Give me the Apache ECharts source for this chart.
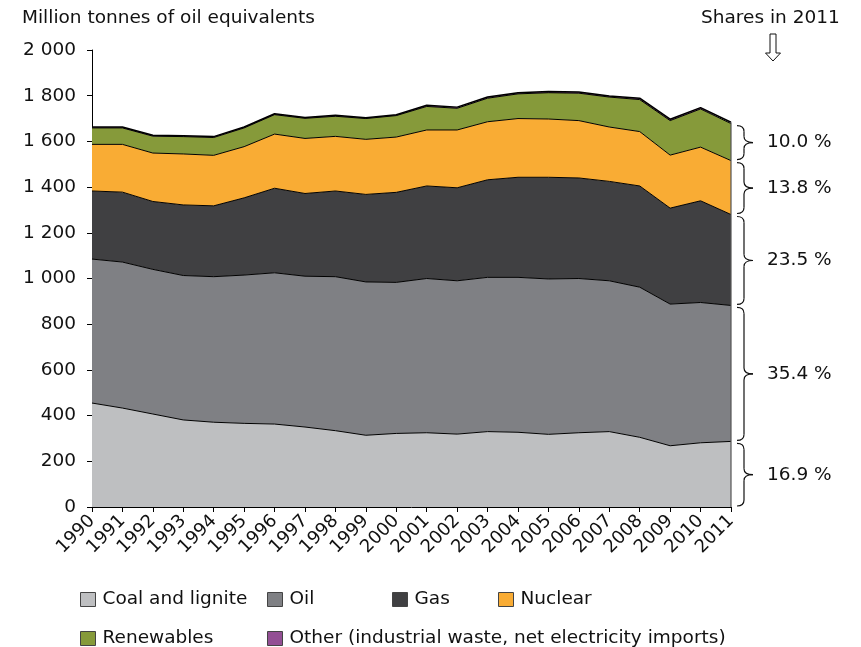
<!DOCTYPE html>
<html>
<head>
<meta charset="utf-8">
<script src="https://cdn.jsdelivr.net/npm/echarts@6/dist/echarts.min.js"></script>
<style>
  html, body { margin: 0; padding: 0; background: #fff; }
  #chart { width: 861px; height: 647px; }
</style>
</head>
<body>
<div id="chart"></div>
<script>
// Years on the x axis
const years = ['1990', '1991', '1992', '1993', '1994', '1995', '1996', '1997', '1998', '1999', '2000',
    '2001', '2002', '2003', '2004', '2005', '2006', '2007', '2008', '2009', '2010', '2011'];

// Gross inland energy consumption by fuel, Mtoe
const coal = [455, 433, 407, 381, 371, 366, 363, 350, 334, 314, 322, 325, 319, 330, 327, 318, 325, 330, 305, 268, 281, 287];
const oil = [630, 639, 633, 632, 637, 649, 662, 660, 674, 671, 661, 675, 671, 675, 678, 680, 675, 660, 657, 620, 614, 595];
const gas = [298, 306, 297, 309, 310, 338, 370, 362, 375, 383, 394, 405, 407, 427, 438, 445, 440, 435, 443, 420, 445, 398];
const nuclear = [204, 209, 212, 223, 221, 224, 237, 241, 239, 241, 242, 245, 253, 254, 257, 255, 251, 238, 238, 232, 235, 236];
const renewables = [72, 72, 74, 76, 78, 82, 85, 88, 88, 91, 94, 103, 95, 103, 108, 115, 120, 131, 140, 151, 167, 162];
const other = [4, 4, 4, 4, 4, 4, 4, 4, 4, 4, 4, 5, 5, 5, 5, 5, 5, 5, 6, 6, 6, 6];

// Shares in 2011, bottom to top (coal, oil, gas, nuclear, renewables)
const shareLabels = ['16.9 %', '35.4 %', '23.5 %', '13.8 %', '10.0 %'];

const names = ['Coal and lignite', 'Oil', 'Gas', 'Nuclear', 'Renewables',
    'Other (industrial waste, net electricity imports)'];
const colors = ['#bebfc1', '#7f8084', '#404042', '#f9ac34', '#869a3a', '#934f94'];
const values = [coal, oil, gas, nuclear, renewables, other];

const FONT = 'DejaVu Sans';
const chart = echarts.init(document.getElementById('chart'));

const series = names.map((name, i) => ({
    name: name,
    type: 'line',
    stack: 'total',
    data: values[i],
    symbol: 'none',
    lineStyle: { color: '#000', width: i === 5 ? 1.5 : 1 },
    areaStyle: { color: colors[i], opacity: 1 },
    itemStyle: { color: colors[i] },
    z: 2
}));

// Legend placement: two rows like the original
const legendPos = [[80, 590], [267, 590], [392, 590], [498, 590], [80, 629], [267, 629]];
const legends = names.map((name, i) => ({
    data: [name],
    left: legendPos[i][0],
    top: legendPos[i][1],
    padding: 0,
    icon: 'rect',
    itemWidth: 15,
    itemHeight: 14,
    itemGap: 6,
    itemStyle: { borderColor: '#444', borderWidth: 1 },
    textStyle: { fontFamily: FONT, fontSize: 18.5, color: '#111', padding: [0, 0, 0, 2] },
    selectedMode: false
}));

chart.setOption({
    animation: false,
    textStyle: { fontFamily: FONT },
    grid: { left: 92, right: 130, top: 50, bottom: 140, containLabel: false },
    title: [
        { text: 'Million tonnes of oil equivalents', left: 22, top: 9, padding: 0,
          textStyle: { fontFamily: FONT, fontSize: 18.5, fontWeight: 'normal', color: '#111' } },
        { text: 'Shares in 2011', left: 701, top: 9, padding: 0,
          textStyle: { fontFamily: FONT, fontSize: 18.5, fontWeight: 'normal', color: '#111' } }
    ],
    legend: legends,
    xAxis: {
        type: 'category',
        data: years,
        boundaryGap: false,
        axisLine: { lineStyle: { color: '#000', width: 1 } },
        axisTick: { show: true, alignWithLabel: true, length: 5, lineStyle: { color: '#000' } },
        axisLabel: { rotate: 45, fontSize: 18, color: '#111', fontFamily: FONT, margin: 11, interval: 0 },
        splitLine: { show: false }
    },
    yAxis: {
        type: 'value',
        min: 0,
        max: 2000,
        interval: 200,
        axisLine: { show: true, lineStyle: { color: '#000', width: 1 } },
        axisTick: { show: true, length: 5, lineStyle: { color: '#000' } },
        axisLabel: {
            fontSize: 18.5, color: '#111', fontFamily: FONT, margin: 16,
            formatter: v => String(v).replace(/\B(?=(\d{3})+(?!\d))/g, ' ')
        },
        splitLine: { show: false }
    },
    series: series
});

// Braces and share labels at the 2011 edge, placed from the stacked data
const last = years.length - 1;
const cum = [0];
for (let i = 0; i < 5; i++) cum.push(cum[i] + values[i][last]);
const total = cum[5] + other[last];

const graphics = [];
const edge0 = chart.convertToPixel({ gridIndex: 0 }, [last, 0]);
const edge1 = chart.convertToPixel({ gridIndex: 0 }, [last, total]);
graphics.push({
    type: 'line', shape: { x1: edge0[0], y1: edge0[1], x2: edge1[0], y2: edge1[1] },
    style: { stroke: '#555', lineWidth: 1.2 }, z: 10
});

const braceStyle = { stroke: '#111', fill: null, lineWidth: 1.2 };
for (let i = 0; i < 5; i++) {
    const yb = chart.convertToPixel({ gridIndex: 0 }, [last, cum[i]])[1] - 1;
    const yt = chart.convertToPixel({ gridIndex: 0 }, [last, cum[i + 1]])[1] + 2;
    const x0 = edge0[0] + 6;   // curled ends
    const x1 = edge0[0] + 13;  // vertical stroke
    const x2 = edge0[0] + 22;  // middle tip
    const ym = (yb + yt) / 2;
    const r = 6;
    graphics.push(
        { type: 'bezierCurve', shape: { x1: x0, y1: yt, cpx1: x1, cpy1: yt, x2: x1, y2: yt + r }, style: braceStyle },
        { type: 'line', shape: { x1: x1, y1: yt + r, x2: x1, y2: ym - r }, style: braceStyle },
        { type: 'bezierCurve', shape: { x1: x1, y1: ym - r, cpx1: x1, cpy1: ym, x2: x2, y2: ym }, style: braceStyle },
        { type: 'bezierCurve', shape: { x1: x2, y1: ym, cpx1: x1, cpy1: ym, x2: x1, y2: ym + r }, style: braceStyle },
        { type: 'line', shape: { x1: x1, y1: ym + r, x2: x1, y2: yb - r }, style: braceStyle },
        { type: 'bezierCurve', shape: { x1: x1, y1: yb - r, cpx1: x1, cpy1: yb, x2: x0, y2: yb }, style: braceStyle },
        {
            type: 'text', x: edge0[0] + 36, y: ym,
            style: { text: shareLabels[i], font: '18.5px ' + FONT, fill: '#111', verticalAlign: 'middle' }
        }
    );
}

// Hollow down arrow under "Shares in 2011"
const ax = 773;
graphics.push({
    type: 'polygon',
    shape: { points: [[ax - 3, 34], [ax + 3, 34], [ax + 3, 53], [ax + 7.5, 53], [ax, 61], [ax - 7.5, 53], [ax - 3, 53]] },
    style: { stroke: '#111', fill: '#fff', lineWidth: 1 }
});

chart.setOption({ graphic: graphics });
</script>
</body>
</html>
